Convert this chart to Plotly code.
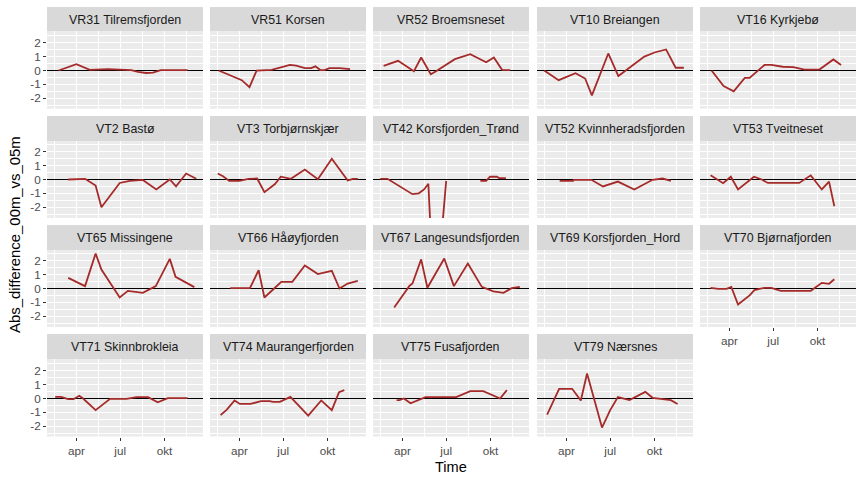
import datetime as dt
import plotly.graph_objects as go

# day of year and difference values per station
vr31_days = [54, 91, 119, 140, 157, 205, 219, 236, 250, 266, 322]
vr31_vals = [0.0, 0.45, 0.05, 0.1, 0.1, 0.03, -0.1, -0.18, -0.15, 0.03, 0.03]
vr51_days = [48, 96, 112, 127, 158, 196, 209, 227, 240, 249, 259, 268, 278, 299, 321]
vr51_vals = [0.0, -0.7, -1.2, 0.0, 0.05, 0.4, 0.35, 0.17, 0.17, 0.3, 0.03, 0.03, 0.17, 0.17, 0.1]
vr52_days = [52, 82, 115, 130, 150, 160, 200, 232, 265, 281, 298, 315]
vr52_vals = [0.34, 0.7, -0.05, 0.94, -0.27, -0.07, 0.82, 1.18, 0.6, 0.94, 0.05, 0.03]
vt10_days = [45, 75, 110, 130, 144, 178, 199, 218, 253, 274, 298, 318, 335]
vt10_vals = [0.0, -0.7, -0.2, -0.58, -1.8, 1.23, -0.4, 0.07, 1.0, 1.3, 1.52, 0.2, 0.2]
vt16_days = [54, 79, 100, 123, 133, 164, 178, 202, 224, 247, 278, 307, 323]
vt16_vals = [0.0, -1.13, -1.5, -0.53, -0.53, 0.4, 0.4, 0.27, 0.25, 0.07, 0.07, 0.8, 0.4]
vt2_days = [74, 109, 131, 143, 181, 202, 229, 257, 285, 298, 319, 340]
vt2_vals = [0.0, 0.05, -0.43, -2.0, -0.25, -0.1, -0.03, -0.72, 0.0, -0.5, 0.43, 0.05]
vt3_days = [46, 57, 70, 91, 110, 128, 143, 165, 177, 198, 227, 254, 283, 302, 316, 327, 337]
vt3_vals = [0.43, 0.24, -0.1, -0.1, 0.05, 0.07, -0.92, -0.33, 0.2, 0.05, 0.72, 0.02, 1.5, 0.55, -0.07, 0.05, 0.05]
vt42_days = [45, 60, 112, 125, 136, 145, 158, 182, None, 253, 265, 273, 287, 292, 306]
vt42_vals = [0.05, 0.05, -1.06, -1.0, -0.72, -0.31, -9.8, -0.1, None, -0.1, -0.1, 0.2, 0.2, 0.1, 0.1]
vt52_days = [77, 105, 106, 143, 167, 198, 232, 270, 291, 308]
vt52_vals = [-0.1, -0.1, -0.02, -0.02, -0.5, -0.15, -0.72, -0.02, 0.07, -0.1]
vt53_days = [52, 78, 94, 109, 142, 157, 171, 236, 260, 283, 298, 309]
vt53_vals = [0.3, -0.27, 0.2, -0.72, 0.2, 0.02, -0.25, -0.25, 0.3, -0.72, -0.15, -1.93]
vt65_days = [74, 109, 131, 143, 181, 198, 229, 256, 285, 297, 336]
vt65_vals = [0.77, 0.17, 2.53, 1.37, -0.65, -0.17, -0.31, 0.17, 2.14, 0.84, 0.1]
vt66_days = [72, 113, 131, 143, 161, 178, 201, 227, 254, 283, 299, 316, 337]
vt66_vals = [0.02, 0.02, 1.32, -0.65, -0.07, 0.48, 0.48, 1.66, 1.04, 1.28, 0.0, 0.36, 0.55]
vt67_days = [74, 106, 112, 130, 143, 178, 198, 227, 256, 280, 301, 318, 335]
vt67_vals = [-1.37, 0.2, 0.36, 2.1, 0.05, 2.17, 0.17, 1.8, 0.12, -0.2, -0.31, 0.02, 0.12]
vt69_days = []
vt69_vals = []
vt70_days = [52, 68, 85, 95, 109, 133, 143, 164, 178, 198, 260, 274, 283, 298, 309]
vt70_vals = [0.05, -0.02, -0.02, 0.12, -1.16, -0.5, -0.12, 0.05, 0.05, -0.17, -0.17, 0.2, 0.41, 0.34, 0.67]
vt71_days = [47, 59, 74, 85, 97, 105, 131, 161, 195, 205, 216, 240, 260, 281, 322]
vt71_vals = [0.12, 0.12, -0.05, -0.05, 0.2, 0.0, -0.84, -0.02, -0.02, 0.05, 0.1, 0.1, -0.27, 0.02, 0.02]
vt74_days = [52, 65, 81, 92, 114, 136, 154, 161, 175, 197, 234, 261, 283, 298, 309]
vt74_vals = [-1.2, -0.8, -0.14, -0.39, -0.39, -0.19, -0.19, -0.24, -0.24, 0.12, -1.23, -0.14, -0.84, 0.46, 0.6]
vt75_days = [79, 85, 94, 108, 139, 203, 232, 259, 294, 308]
vt75_vals = [-0.12, -0.12, 0.0, -0.34, 0.1, 0.1, 0.53, 0.53, 0.0, 0.6]
vt79_days = [51, 76, 103, 121, 134, 165, 182, 198, 222, 255, 270, 308, 322]
vt79_vals = [-1.16, 0.7, 0.7, -0.14, 1.8, -2.1, -0.84, 0.1, -0.12, 0.48, 0.05, -0.12, -0.4]

stations = [
    ("VR31 Tilremsfjorden", vr31_days, vr31_vals),
    ("VR51 Korsen", vr51_days, vr51_vals),
    ("VR52 Broemsneset", vr52_days, vr52_vals),
    ("VT10 Breiangen", vt10_days, vt10_vals),
    ("VT16 Kyrkjebø", vt16_days, vt16_vals),
    ("VT2 Bastø", vt2_days, vt2_vals),
    ("VT3 Torbjørnskjær", vt3_days, vt3_vals),
    ("VT42 Korsfjorden_Trønd", vt42_days, vt42_vals),
    ("VT52 Kvinnheradsfjorden", vt52_days, vt52_vals),
    ("VT53 Tveitneset", vt53_days, vt53_vals),
    ("VT65 Missingene", vt65_days, vt65_vals),
    ("VT66 Håøyfjorden", vt66_days, vt66_vals),
    ("VT67 Langesundsfjorden", vt67_days, vt67_vals),
    ("VT69 Korsfjorden_Hord", vt69_days, vt69_vals),
    ("VT70 Bjørnafjorden", vt70_days, vt70_vals),
    ("VT71 Skinnbrokleia", vt71_days, vt71_vals),
    ("VT74 Maurangerfjorden", vt74_days, vt74_vals),
    ("VT75 Fusafjorden", vt75_days, vt75_vals),
    ("VT79 Nærsnes", vt79_days, vt79_vals),
]

x_major = ["2018-04-01", "2018-07-01", "2018-10-01"]
x_minor = ["2018-02-15", "2018-05-16", "2018-08-16", "2018-11-16"]
x_labels = ["apr", "jul", "okt"]
y_major = [-2, -1, 0, 1, 2]
y_minor = [-2.5, -1.5, -0.5, 0.5, 1.5, 2.5]
x_range = ["2018-01-30", "2018-12-20"]

W, H = 864, 480
col_left = [47, 210, 373, 537, 700]
panel_w = 156
strip_top = [7, 116, 225, 334]
panel_top = [31, 141, 250, 359]
panel_bot = [108.7, 218, 327, 436.5]
zero_px = [70.5, 179.5, 288.5, 398.5]
px_per_unit = 13.85
FONT = "Liberation Sans, Arial, sans-serif"

fig = go.Figure()
layout = {}
shapes = []
annotations = []


def date(d):
    if d is None:
        return None
    return (dt.date(2018, 1, 1) + dt.timedelta(days=d - 1)).isoformat()


for i, (name, days, vals) in enumerate(stations):
    r, c = divmod(i, 5)
    n = i + 1
    sfx = "" if n == 1 else str(n)
    x0 = col_left[c]
    top, bot, zero = panel_top[r], panel_bot[r], zero_px[r]
    y_range = [-(bot - zero) / px_per_unit, (zero - top) / px_per_unit]
    show_x = r == 3 or (r == 2 and c == 4)
    show_y = c == 0

    # horizontal reference line at zero, under the data line
    fig.add_trace(go.Scatter(
        x=x_range, y=[0, 0], mode="lines", line=dict(color="black", width=1),
        showlegend=False, hoverinfo="skip", xaxis="x" + sfx, yaxis="y" + sfx,
    ))
    fig.add_trace(go.Scatter(
        x=[date(d) for d in days], y=vals, mode="lines",
        line=dict(color="#A52A2A", width=1.8), connectgaps=False,
        showlegend=False, hoverinfo="skip",
        xaxis="x" + sfx, yaxis="y" + sfx,
    ))

    layout["xaxis" + sfx] = dict(
        domain=[x0 / W, (x0 + panel_w) / W], anchor="y" + sfx, type="date",
        range=x_range, tickmode="array", tickvals=x_major,
        ticktext=x_labels if show_x else ["", "", ""],
        ticks="outside" if show_x else "", ticklen=3, tickwidth=1, tickcolor="#333333",
        tickfont=dict(family=FONT, size=11.7, color="#4D4D4D"),
        showgrid=True, gridcolor="white", gridwidth=1, zeroline=False, showline=False,
        minor=dict(tickmode="array", tickvals=x_minor, showgrid=True,
                   gridcolor="white", gridwidth=0.6, ticks=""),
    )
    layout["yaxis" + sfx] = dict(
        domain=[1 - bot / H, 1 - top / H], anchor="x" + sfx,
        range=y_range, tickmode="array", tickvals=y_major,
        ticktext=[str(v) for v in y_major] if show_y else [""] * 5,
        ticks="outside" if show_y else "", ticklen=3, tickwidth=1, tickcolor="#333333",
        tickfont=dict(family=FONT, size=11.7, color="#4D4D4D"),
        showgrid=True, gridcolor="white", gridwidth=1, zeroline=False, showline=False,
        minor=dict(tickmode="array", tickvals=y_minor, showgrid=True,
                   gridcolor="white", gridwidth=0.6, ticks=""),
    )
    shapes.append(dict(type="rect", xref="paper", yref="paper",
                       x0=x0 / W, x1=(x0 + panel_w) / W,
                       y0=1 - top / H, y1=1 - strip_top[r] / H,
                       fillcolor="#D9D9D9", line=dict(width=0), layer="below"))
    annotations.append(dict(text=name, xref="paper", yref="paper",
                            x=(x0 + panel_w / 2) / W, y=1 - (strip_top[r] + 13) / H,
                            xanchor="center", yanchor="middle", showarrow=False,
                            font=dict(family=FONT, size=12.4, color="#1A1A1A")))

annotations.append(dict(text="Time", xref="paper", yref="paper", x=450.5 / W, y=1 - 467 / H,
                        xanchor="center", yanchor="middle", showarrow=False,
                        font=dict(family=FONT, size=14.6, color="black")))
annotations.append(dict(text="Abs_difference_00m_vs_05m", xref="paper", yref="paper",
                        x=14.5 / W, y=1 - 234.5 / H, textangle=-90,
                        xanchor="center", yanchor="middle", showarrow=False,
                        font=dict(family=FONT, size=14.9, color="black")))

fig.update_layout(
    width=W, height=H, margin=dict(l=0, r=0, t=0, b=0),
    paper_bgcolor="white", plot_bgcolor="#EBEBEB",
    showlegend=False, shapes=shapes, annotations=annotations, **layout,
)

fig.write_html("out.html", config={"displayModeBar": False},
               post_script="document.body.style.margin='0';")
